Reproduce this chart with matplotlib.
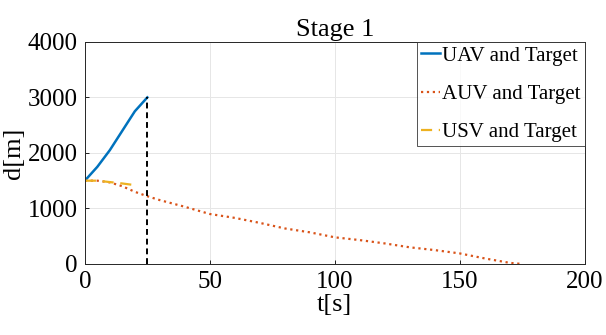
import numpy as np
import matplotlib
matplotlib.use('Agg')
import matplotlib.pyplot as plt

plt.rcParams['font.family'] = ['Liberation Serif', 'DejaVu Serif']
plt.rcParams['mathtext.fontset'] = 'stix'

t_uav = [0, 5, 10, 15, 20, 25]
d_uav = [1500, 1750, 2050, 2400, 2750, 3000]

t_auv = [0, 5, 10, 15, 20, 25, 30, 40, 50, 60, 70, 80, 90, 100, 110, 120, 130, 140, 150, 160, 170, 175]
d_auv = [1500, 1500, 1470, 1400, 1300, 1220, 1150, 1030, 900, 830, 740, 640, 570, 480, 430, 370, 300, 250, 190, 100, 20, 0]

t_usv = [0, 5, 10, 15, 20]
d_usv = [1500, 1500, 1475, 1450, 1420]

t_switch = 25
d_switch = 3000

fig = plt.figure(figsize=(6.06, 3.35), dpi=100)
ax = fig.add_axes([0.140, 0.212, 0.825, 0.663])

ax.plot(t_uav, d_uav, color='#0072BD', lw=1.8, label='UAV and Target')
ax.plot(t_auv, d_auv, color='#D95319', lw=1.6, ls=':', label='AUV and Target')
ax.plot(t_usv, d_usv, color='#EDB120', lw=1.6, ls=(0, (5, 3)), label='USV and Target')
ax.plot([t_switch, t_switch], [0, d_switch], color='black', lw=1.4, ls=(0, (3, 2)))

ax.set_xlim(0, 200)
ax.set_ylim(0, 4000)
ax.set_xticks([0, 50, 100, 150, 200])
ax.set_yticks([0, 1000, 2000, 3000, 4000])
ax.grid(True, color='#e6e6e6', lw=0.7)
ax.set_axisbelow(True)
ax.tick_params(labelsize=18, direction='in', length=3, width=0.6, pad=5)
for s in ax.spines.values():
    s.set_linewidth(0.7)
    s.set_color('#262626')

ax.set_xlabel('t[s]', fontsize=19, labelpad=1)
ax.set_ylabel('d[m]', fontsize=19, labelpad=2)
ax.set_title('Stage 1', fontsize=19, pad=4)

leg = ax.legend(loc='upper right', fontsize=15, frameon=True, fancybox=False,
                edgecolor='#262626', handlelength=0.9, handletextpad=0.1,
                borderaxespad=0, labelspacing=0.9, borderpad=0.2)
leg.get_frame().set_linewidth(0.7)

fig.savefig('out.png', dpi=100)
